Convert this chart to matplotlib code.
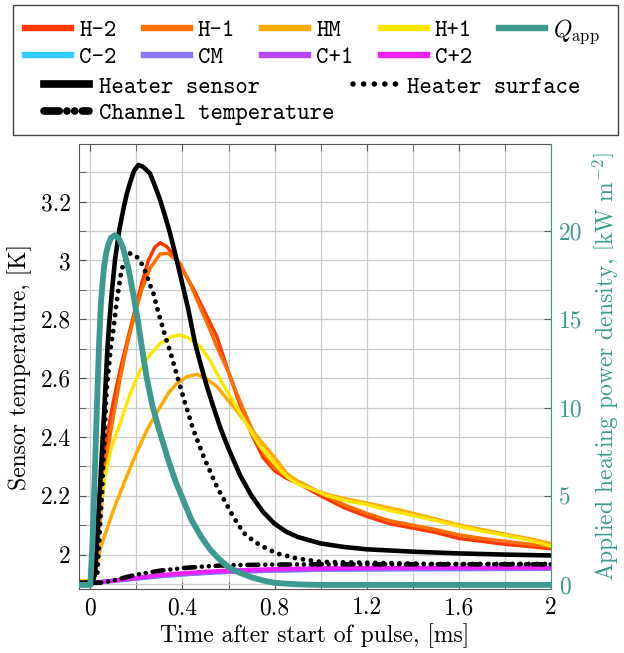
import numpy as np
import matplotlib
matplotlib.use('Agg')
import matplotlib.pyplot as plt
from matplotlib.lines import Line2D
from matplotlib.patches import Rectangle
from matplotlib.ticker import MultipleLocator, FixedLocator, FuncFormatter

plt.rcParams['font.family'] = 'cmr10'
plt.rcParams['mathtext.fontset'] = 'cm'
plt.rcParams['axes.unicode_minus'] = False
plt.rcParams['axes.formatter.use_mathtext'] = True

# ---------------- data ----------------
t_h2 = [-0.05, 0.0, 0.02, 0.04, 0.07, 0.10, 0.13, 0.165, 0.194, 0.223, 0.252, 0.28, 0.303,
        0.332, 0.36, 0.40, 0.45, 0.50, 0.55, 0.60, 0.65, 0.70, 0.75, 0.80, 0.85, 0.90, 1.00,
        1.10, 1.20, 1.30, 1.40, 1.50, 1.60, 1.70, 1.80, 1.90, 2.00]
h2 = [1.91, 1.91, 1.93, 2.12, 2.39, 2.52, 2.63, 2.741, 2.832, 2.922, 3.00, 3.045, 3.06,
      3.047, 3.02, 2.97, 2.90, 2.82, 2.74, 2.62, 2.51, 2.41, 2.33, 2.285, 2.26, 2.243, 2.20,
      2.16, 2.13, 2.105, 2.09, 2.075, 2.055, 2.045, 2.035, 2.028, 2.02]

t_h1 = [-0.05, 0.0, 0.02, 0.04, 0.07, 0.10, 0.13, 0.158, 0.187, 0.223, 0.259, 0.303, 0.339,
        0.389, 0.433, 0.476, 0.52, 0.549, 0.60, 0.65, 0.70, 0.75, 0.80, 0.85, 0.90, 1.00,
        1.10, 1.20, 1.30, 1.40, 1.50, 1.60, 1.70, 1.80, 1.90, 2.00]
h1 = [1.91, 1.91, 1.93, 2.10, 2.33, 2.47, 2.60, 2.707, 2.798, 2.90, 2.973, 3.022, 3.024,
      2.99, 2.922, 2.843, 2.764, 2.707, 2.62, 2.52, 2.43, 2.35, 2.295, 2.268, 2.25, 2.21,
      2.17, 2.14, 2.115, 2.10, 2.085, 2.067, 2.055, 2.045, 2.036, 2.027]

t_hm = [-0.05, 0.0, 0.02, 0.043, 0.10, 0.15, 0.20, 0.25, 0.304, 0.34, 0.376, 0.42, 0.462,
        0.50, 0.55, 0.621, 0.68, 0.737, 0.80, 0.853, 0.90, 0.969, 1.05, 1.10, 1.245, 1.35,
        1.46, 1.605, 1.70, 1.823, 1.90, 2.00]
hm = [1.91, 1.91, 1.93, 2.02, 2.15, 2.25, 2.345, 2.43, 2.503, 2.55, 2.582, 2.605, 2.613,
      2.60, 2.571, 2.503, 2.445, 2.389, 2.33, 2.276, 2.25, 2.22, 2.20, 2.191, 2.168, 2.15,
      2.129, 2.10, 2.085, 2.066, 2.055, 2.038]

t_hp1 = [-0.05, 0.0, 0.02, 0.029, 0.058, 0.09, 0.13, 0.17, 0.217, 0.26, 0.304, 0.35, 0.39,
         0.43, 0.478, 0.52, 0.565, 0.61, 0.652, 0.70, 0.738, 0.80, 0.853, 0.90, 0.97, 1.03,
         1.10, 1.20, 1.30, 1.46, 1.605, 1.70, 1.823, 1.90, 2.00]
hp1 = [1.91, 1.91, 1.95, 2.05, 2.242, 2.36, 2.446, 2.54, 2.627, 2.68, 2.718, 2.74, 2.747,
       2.735, 2.707, 2.66, 2.594, 2.535, 2.48, 2.415, 2.367, 2.31, 2.265, 2.24, 2.22, 2.20,
       2.185, 2.17, 2.15, 2.123, 2.095, 2.08, 2.062, 2.05, 2.029]

t_c = [-0.05, 0.0, 0.1, 0.2, 0.3, 0.4, 0.5, 0.6, 0.8, 1.0, 1.4, 2.0]
c_m2 = [1.903, 1.903, 1.910, 1.918, 1.926, 1.932, 1.937, 1.941, 1.945, 1.948, 1.950, 1.951]
c_m = [1.903, 1.903, 1.910, 1.918, 1.926, 1.932, 1.937, 1.941, 1.945, 1.948, 1.950, 1.951]
c_p1 = [1.903, 1.903, 1.911, 1.920, 1.928, 1.934, 1.939, 1.943, 1.948, 1.951, 1.953, 1.954]
c_p2 = [1.903, 1.903, 1.912, 1.921, 1.930, 1.937, 1.942, 1.946, 1.951, 1.954, 1.955, 1.956]

t_sens = [-0.05, 0.0, 0.02, 0.03, 0.04, 0.05, 0.06, 0.074, 0.082, 0.093, 0.107, 0.126, 0.143,
          0.158, 0.172, 0.19, 0.209, 0.23, 0.259, 0.28, 0.303, 0.325, 0.346, 0.368, 0.389,
          0.426, 0.455, 0.478, 0.505, 0.534, 0.565, 0.60, 0.65, 0.70, 0.75, 0.80, 0.85, 0.90,
          1.00, 1.10, 1.20, 1.40, 1.60, 1.80, 2.00]
sens = [1.905, 1.905, 1.93, 2.06, 2.20, 2.34, 2.48, 2.695, 2.786, 2.888, 3.00, 3.104, 3.172,
        3.225, 3.263, 3.305, 3.325, 3.318, 3.296, 3.255, 3.206, 3.15, 3.093, 3.025, 2.956,
        2.832, 2.718, 2.65, 2.575, 2.503, 2.43, 2.36, 2.27, 2.20, 2.145, 2.105, 2.078, 2.06,
        2.038, 2.026, 2.018, 2.010, 2.004, 2.000, 1.997]

t_surf = [-0.05, 0.0, 0.03, 0.05, 0.07, 0.089, 0.10, 0.112, 0.122, 0.136, 0.15, 0.172, 0.19,
          0.209, 0.23, 0.245, 0.259, 0.274, 0.295, 0.307, 0.329, 0.347, 0.376, 0.412, 0.448,
          0.492, 0.55, 0.621, 0.664, 0.70, 0.737, 0.809, 0.896, 1.00, 1.50, 2.00]
surf = [1.905, 1.905, 1.93, 2.20, 2.55, 2.707, 2.764, 2.843, 2.90, 2.968, 3.00, 3.024, 3.02,
        3.007, 2.979, 2.95, 2.917, 2.888, 2.824, 2.792, 2.733, 2.69, 2.61, 2.514, 2.423,
        2.333, 2.23, 2.129, 2.075, 2.052, 2.032, 2.004, 1.987, 1.975, 1.968, 1.968]

t_chan = [0.0, 0.05, 0.10, 0.15, 0.20, 0.30, 0.40, 0.50, 0.60, 0.80, 1.00, 1.50, 2.00]
chan = [1.903, 1.905, 1.912, 1.922, 1.932, 1.945, 1.954, 1.960, 1.964, 1.966, 1.967, 1.967,
        1.967]

t_q = [-0.05, 0.0, 0.01, 0.02, 0.03, 0.038, 0.046, 0.059, 0.07, 0.078, 0.09, 0.107, 0.125,
       0.143, 0.165, 0.187, 0.208, 0.223, 0.245, 0.27, 0.30, 0.34, 0.37, 0.40, 0.44, 0.48,
       0.52, 0.56, 0.60, 0.65, 0.70, 0.75, 0.80, 0.90, 1.00, 2.00]
q_app = [0.0, 0.0, 2.5, 6.5, 10.5, 13.6, 15.9, 17.9, 18.8, 19.2, 19.6, 19.75, 19.55, 19.0,
         17.9, 16.4, 14.8, 13.5, 11.7, 10.1, 8.7, 7.0, 5.85, 4.9, 3.65, 2.75, 2.0, 1.45, 1.0,
         0.68, 0.43, 0.25, 0.12, 0.03, 0.0, 0.0]

x_ticks = [0, 0.4, 0.8, 1.2, 1.6, 2]
y_ticks = [2.0, 2.2, 2.4, 2.6, 2.8, 3.0, 3.2]
q_ticks = [0, 5, 10, 15, 20]

# ---------------- styling ----------------
C_H2 = '#ff3a00'
C_H1 = '#ff6e00'
C_HM = '#ffaa00'
C_HP1 = '#ffe600'
C_Q = '#3d9a8e'
C_CM2 = '#33ccff'
C_CM = '#8c78ff'
C_CP1 = '#b845ff'
C_CP2 = '#ee22ff'
GRID = '#cccccc'
SPINE = '#555555'

fig = plt.figure(figsize=(6.24, 6.53), dpi=100)
ax = fig.add_axes([79 / 624, 1 - 589 / 653, (551 - 79) / 624, (589 - 144) / 653])

lw_c = 2.5
ax.plot(t_c, c_m2, color=C_CM2, lw=lw_c + 0.4, solid_capstyle='butt')
ax.plot(t_c, c_m, color=C_CM, lw=lw_c + 0.4, solid_capstyle='butt')
ax.plot(t_c, c_p1, color=C_CP1, lw=lw_c + 0.4, solid_capstyle='butt')
ax.plot(t_c, c_p2, color=C_CP2, lw=lw_c + 0.4, solid_capstyle='butt')
ax.plot(t_h2, h2, color=C_H2, lw=lw_c)
ax.plot(t_h1, h1, color=C_H1, lw=lw_c)
ax.plot(t_hm, hm, color=C_HM, lw=lw_c)
ax.plot(t_hp1, hp1, color=C_HP1, lw=lw_c)
ax.plot(t_sens, sens, color='black', lw=3.3)
ax.plot(t_surf, surf, color='black', lw=3.5, linestyle=(0, (0.01, 1.65)), dash_capstyle='round')
ax.plot(t_chan, chan, color='black', lw=3.3,
        linestyle=(0, (2.4, 1.5, 0.01, 1.5, 0.01, 1.5)), dash_capstyle='round')

ax.set_xlim(-0.049, 2.0)
ax.set_ylim(1.883, 3.396)
ax.xaxis.set_major_locator(FixedLocator(x_ticks))
ax.xaxis.set_minor_locator(MultipleLocator(0.2))
ax.yaxis.set_major_locator(FixedLocator(y_ticks))
ax.yaxis.set_minor_locator(MultipleLocator(0.1))
ax.xaxis.set_major_formatter(FuncFormatter(lambda v, p: f'{v:g}'))
ax.yaxis.set_major_formatter(FuncFormatter(lambda v, p: f'{v:g}'))
ax.grid(which='both', color=GRID, lw=0.9)
ax.set_axisbelow(True)
ax.tick_params(which='both', direction='in', top=True, bottom=True, left=True, right=False,
               color=SPINE, labelsize=17, pad=6)
ax.tick_params(which='major', length=5)
ax.tick_params(which='minor', length=5)
for s in ['left', 'top', 'bottom']:
    ax.spines[s].set_color(SPINE)
ax.spines['right'].set_visible(False)
ax.set_xlabel('Time after start of pulse, [ms]', fontsize=17, labelpad=3)
ax.set_ylabel('Sensor temperature, [K]', fontsize=17, labelpad=6)

ax2 = ax.twinx()
ax2.plot(t_q, q_app, color=C_Q, lw=4.2)
ax2.set_ylim(-0.23, 24.9)
ax2.yaxis.set_major_locator(FixedLocator(q_ticks))
ax2.yaxis.set_major_formatter(FuncFormatter(lambda v, p: f'{v:g}'))
ax2.tick_params(axis='y', direction='in', length=5, color=SPINE, labelcolor=C_Q,
                labelsize=17, pad=6)
for s in ['left', 'top', 'bottom']:
    ax2.spines[s].set_visible(False)
ax2.spines['right'].set_color(C_Q)
ax2.set_ylabel(r'Applied heating power density, $\left[\mathrm{kW\ m}^{-2}\right]$',
               color=C_Q, fontsize=17, labelpad=6)

# ---------------- legend ----------------
lh = 4.6
handles1 = [Line2D([], [], color=C_H2, lw=lh), Line2D([], [], color=C_CM2, lw=lh),
            Line2D([], [], color=C_H1, lw=lh), Line2D([], [], color=C_CM, lw=lh),
            Line2D([], [], color=C_HM, lw=lh), Line2D([], [], color=C_CP1, lw=lh),
            Line2D([], [], color=C_HP1, lw=lh), Line2D([], [], color=C_CP2, lw=lh),
            Line2D([], [], color=C_Q, lw=lh)]
labels1 = ['H-2', 'C-2', 'H-1', 'CM', 'HM', 'C+1', 'H+1', 'C+2', r'$Q_{\mathrm{app}}$']
leg_font = {'family': 'cmtt10', 'size': 17}
leg1 = fig.legend(handles1, labels1, ncol=5, loc='upper left',
                  bbox_to_anchor=(25 / 624, 1 - 17 / 653), frameon=False, prop=leg_font,
                  handlelength=1.95, handletextpad=0.34, columnspacing=1.15,
                  labelspacing=0.16, borderpad=0, borderaxespad=0)

handles2 = [Line2D([], [], color='black', lw=5.5),
            Line2D([], [], color='black', lw=5.5, linestyle=(0, (2.0, 1.0, 0.01, 1.0, 0.01, 1.0)),
                   dash_capstyle='round'),
            Line2D([], [], color='black', lw=4.0, linestyle=(0, (0.01, 1.9)),
                   dash_capstyle='round')]
labels2 = ['Heater sensor', 'Channel temperature', 'Heater surface']
leg2 = fig.legend(handles2, labels2, ncol=2, loc='upper left',
                  bbox_to_anchor=(44 / 624, 1 - 76 / 653), frameon=False, prop=leg_font,
                  handlelength=1.9, handletextpad=0.42, columnspacing=0.78,
                  labelspacing=0.16, borderpad=0, borderaxespad=0)

fig.patches.append(Rectangle((12.7 / 624, 1 - 135 / 653), (618 - 12.7) / 624, 130 / 653,
                             transform=fig.transFigure, fill=False, ec='#444444', lw=1.0))

fig.savefig('out.png', dpi=100)
